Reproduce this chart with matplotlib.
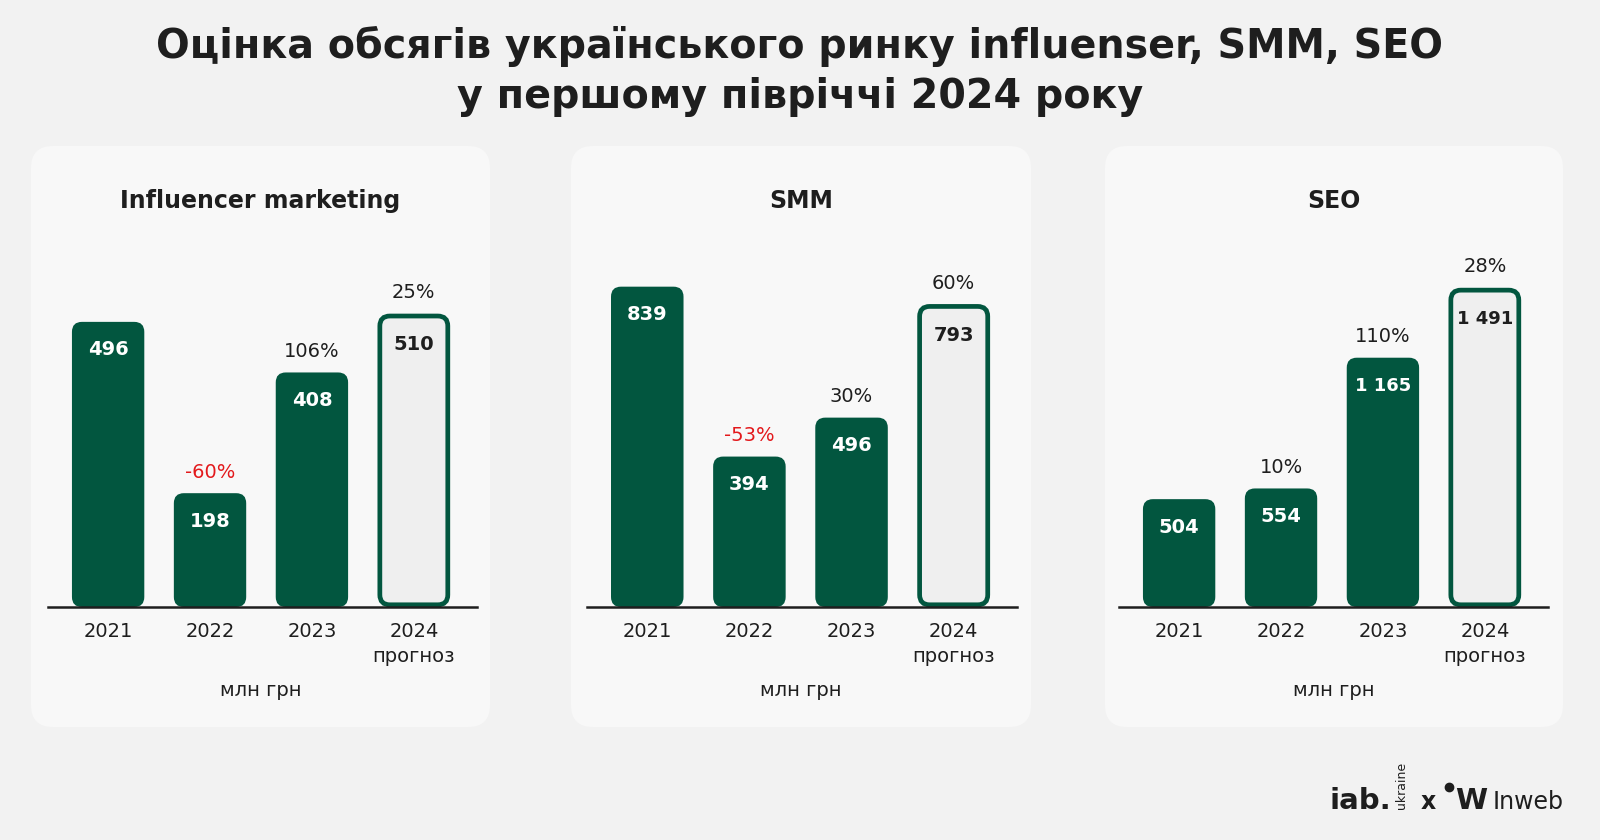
import matplotlib.pyplot as plt
from matplotlib.patches import FancyBboxPatch

# data
years = ["2021", "2022", "2023", "2024\nпрогноз"]
panel_titles = ["Influencer marketing", "SMM", "SEO"]
influencer = [496, 198, 408, 510]
smm = [839, 394, 496, 793]
seo = [504, 554, 1165, 1491]
value_labels = [["496", "198", "408", "510"],
                ["839", "394", "496", "793"],
                ["504", "554", "1 165", "1 491"]]
growth = [["", "-60%", "106%", "25%"],
          ["", "-53%", "30%", "60%"],
          ["", "10%", "110%", "28%"]]
series = [influencer, smm, seo]

GREEN = "#02563f"
BG = "#f2f2f2"
PANEL = "#f8f8f8"
TXT = "#1e1e1e"
RED = "#e3191c"
W, H = 1600, 840
plt.rcParams["font.family"] = ["DejaVu Sans"]

fig = plt.figure(figsize=(16, 8.4), dpi=100, facecolor=BG)

# background axes in pixel coords
bg = fig.add_axes([0, 0, 1, 1])
bg.set_xlim(0, W)
bg.set_ylim(H, 0)
bg.axis("off")

bg.text(800, 46, "Оцінка обсягів українського ринку influenser, SMM, SEO",
        ha="center", va="center", fontsize=28.5, fontweight="bold", color=TXT)
bg.text(800, 97, "у першому півріччі 2024 року",
        ha="center", va="center", fontsize=28.5, fontweight="bold", color=TXT)

panels = [(31, 490), (571, 1031), (1105, 1563)]
axes_x = [(48, 477), (587, 1017), (1119, 1548)]
ytops = [708, 1066, 1902]
base_px = 607
top_px = 200

for i in range(3):
    px0, px1 = panels[i]
    bg.add_patch(FancyBboxPatch((px0, 146), px1 - px0, 581,
                                boxstyle="round,pad=0,rounding_size=22",
                                fc=PANEL, ec="none"))
    bg.text((px0 + px1) / 2, 201, panel_titles[i], ha="center", va="center",
            fontsize=17, fontweight="bold", color=TXT)
    bg.text((px0 + px1) / 2, 690, "млн грн", ha="center", va="center",
            fontsize=14, color=TXT)

    ax0, ax1 = axes_x[i]
    ax = fig.add_axes([ax0 / W, 1 - base_px / H, (ax1 - ax0) / W, (base_px - top_px) / H])
    ax.set_xlim(-0.59, 3.62)
    ax.set_ylim(0, ytops[i])
    ax.patch.set_alpha(0)
    for s in ["top", "right", "left"]:
        ax.spines[s].set_visible(False)
    ax.spines["bottom"].set_linewidth(1.8)
    ax.spines["bottom"].set_color(TXT)
    ax.set_yticks([])
    ax.set_xticks(range(4))
    ax.set_xticklabels(years, fontsize=14, color=TXT, linespacing=1.4)
    ax.tick_params(axis="x", length=0, pad=11)

    vals = series[i]
    bars = ax.bar(range(4), vals, width=0.71)

    # round the bar corners
    pxx = (ax1 - ax0) / (3.62 + 0.59)
    pxy = (base_px - top_px) / ytops[i]
    r = 10 / pxx
    asp = pxx / pxy
    for j, b in enumerate(bars):
        x, w, h = b.get_x(), b.get_width(), b.get_height()
        b.remove()
        if j == 3:
            ins = 2.2 / pxx
            insy = 2.2 / pxy
            ax.add_patch(FancyBboxPatch((x + ins, insy), w - 2 * ins, h - 2 * insy,
                                        boxstyle=f"round,pad=0,rounding_size={r}",
                                        mutation_aspect=asp, fc="#efefef", ec=GREEN,
                                        lw=3.4, clip_on=False))
            col = TXT
            off = -31
        else:
            ax.add_patch(FancyBboxPatch((x, 0), w, h,
                                        boxstyle=f"round,pad=0,rounding_size={r}",
                                        mutation_aspect=asp, fc=GREEN, ec="none",
                                        clip_on=False))
            col = "white"
            off = -28
        lab = value_labels[i][j]
        ax.annotate(lab, (j, h), xytext=(0, off), textcoords="offset pixels",
                    ha="center", va="center", fontsize=14 if len(lab) < 4 else 13,
                    fontweight="bold", color=col)
        g = growth[i][j]
        if g:
            ax.annotate(g, (j, h), xytext=(0, 21), textcoords="offset pixels",
                        ha="center", va="center", fontsize=14,
                        color=RED if g.startswith("-") else TXT)

# logos
bg.text(1330, 809, "iab.", ha="left", va="baseline", fontsize=21, fontweight="bold", color=TXT)
bg.text(1401, 809, "ukraine", ha="center", va="bottom", fontsize=9, rotation=90, color=TXT)
bg.text(1428, 809, "x", ha="center", va="baseline", fontsize=17, fontweight="bold", color=TXT)
bg.plot([1449], [787], "o", ms=6, color=TXT)
bg.text(1471, 809, "W", ha="center", va="baseline", fontsize=21, fontweight="bold", color=TXT)
bg.text(1493, 809, "Inweb", ha="left", va="baseline", fontsize=17, color=TXT)

fig.savefig("out.png", dpi=100, facecolor=BG)
